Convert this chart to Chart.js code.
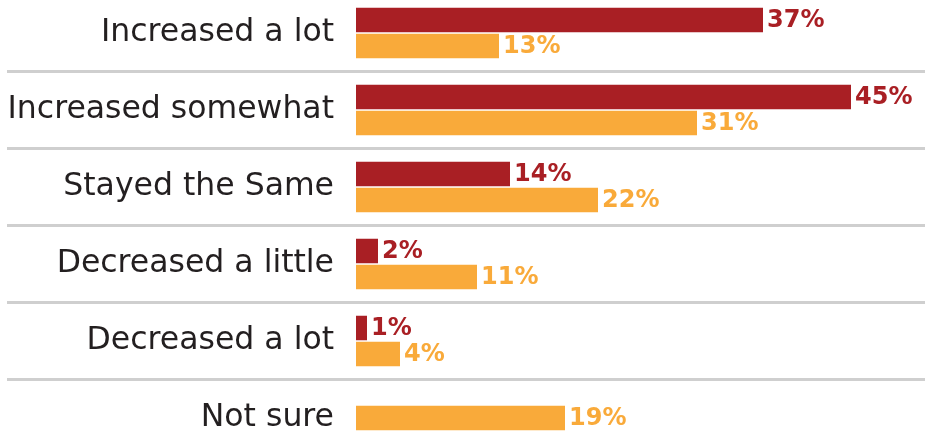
<!DOCTYPE html>
<html>
<head>
<meta charset="utf-8">
<script src="https://cdn.jsdelivr.net/npm/chart.js@4/dist/chart.umd.min.js"></script>
<style>
    html, body { margin: 0; padding: 0; background: #ffffff; }
    #wrap { width: 931px; height: 432px; position: relative; }
</style>
</head>
<body>
<div id="wrap"><canvas id="surveyChart"></canvas></div>
<script>
// ======================================================
// DATA
// ======================================================

const categories = [
    "Increased a lot",
    "Increased somewhat",
    "Stayed the Same",
    "Decreased a little",
    "Decreased a lot",
    "Not sure"
];

const firstValues = [37, 45, 14, 2, 1, null];
const secondValues = [13, 31, 22, 11, 4, 19];

const RED = "#a91f24";
const ORANGE = "#f9aa3a";

// ======================================================
// ROW SEPARATORS
// ======================================================

const separatorPlugin = {
    id: "separators",
    beforeDatasetsDraw(chart) {
        const ctx = chart.ctx;
        const yScale = chart.scales.y;
        ctx.save();
        ctx.strokeStyle = "#cfcfcf";
        ctx.lineWidth = 3;
        for (let i = 0; i < categories.length - 1; i++) {
            const y = (yScale.getPixelForValue(i) + yScale.getPixelForValue(i + 1)) / 2;
            ctx.beginPath();
            ctx.moveTo(7, y);
            ctx.lineTo(925, y);
            ctx.stroke();
        }
        ctx.restore();
    }
};

// ======================================================
// VALUE LABELS
// ======================================================

const valueLabelPlugin = {
    id: "valueLabels",
    afterDatasetsDraw(chart) {
        const ctx = chart.ctx;
        ctx.save();
        ctx.font = "bold 24px 'DejaVu Sans'";
        ctx.textAlign = "left";
        ctx.textBaseline = "middle";
        chart.data.datasets.forEach(function (ds, di) {
            const meta = chart.getDatasetMeta(di);
            meta.data.forEach(function (bar, i) {
                const v = ds.data[i];
                if (v === null || v === undefined) return;
                ctx.fillStyle = ds.backgroundColor;
                ctx.fillText(v + "%", bar.x + 4, bar.y + 1);
            });
        });
        ctx.restore();
    }
};

// ======================================================
// CHART
// ======================================================

const canvas = document.getElementById("surveyChart");

new Chart(canvas.getContext("2d"), {
    type: "bar",
    data: {
        labels: categories,
        datasets: [
            {
                label: "Series 1",
                data: firstValues,
                backgroundColor: RED,
                borderColor: "#ffffff",
                borderWidth: { top: 1, bottom: 1, left: 0, right: 0 },
                borderSkipped: false,
                barThickness: 26,
                clip: false
            },
            {
                label: "Series 2",
                data: secondValues,
                backgroundColor: ORANGE,
                borderColor: "#ffffff",
                borderWidth: { top: 1, bottom: 1, left: 0, right: 0 },
                borderSkipped: false,
                barThickness: 26,
                clip: false
            }
        ]
    },
    options: {
        indexAxis: "y",
        responsive: true,
        maintainAspectRatio: false,
        animation: false,
        skipNull: true,
        layout: {
            padding: { top: 33, bottom: 14, left: 0, right: 25 }
        },
        plugins: {
            legend: { display: false },
            tooltip: { enabled: false }
        },
        scales: {
            x: {
                display: false,
                min: 0,
                max: 50
            },
            y: {
                offset: false,
                grid: { display: false, drawTicks: false },
                border: { display: false },
                ticks: {
                    autoSkip: false,
                    padding: 22,
                    color: "#231f20",
                    font: { family: "'DejaVu Sans'", size: 31.5 }
                },
                afterFit(scale) {
                    scale.width = 356;
                    scale.paddingTop = 0;
                    scale.paddingBottom = 0;
                }
            }
        }
    },
    plugins: [separatorPlugin, valueLabelPlugin]
});
</script>
</body>
</html>
